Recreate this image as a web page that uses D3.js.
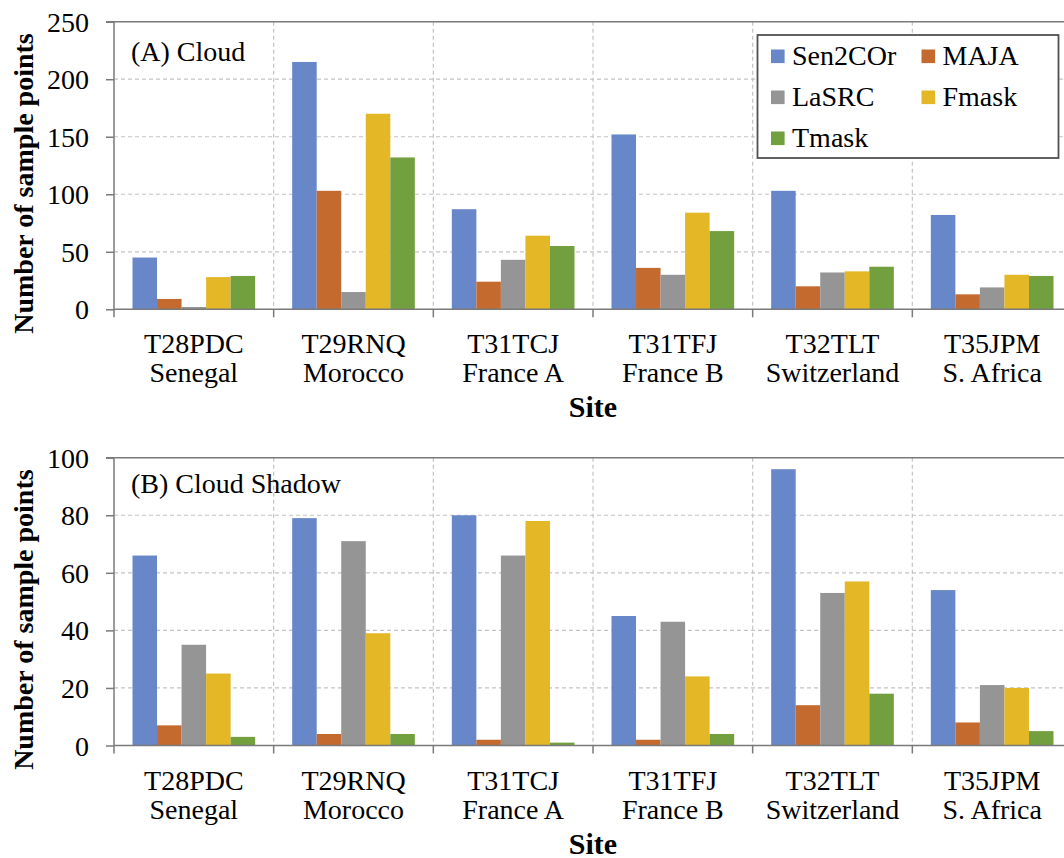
<!DOCTYPE html>
<html>
<head>
<meta charset="utf-8">
<script src="https://cdn.jsdelivr.net/npm/d3@7"></script>
<style>
  body { margin: 0; padding: 0; background: #fff; overflow: hidden; }
  svg { display: block; }
</style>
</head>
<body>
<svg id="chart" width="1064" height="858" style="font-family: 'Liberation Serif' !important"></svg>
<script>
// Sites (tile code + location) shared by both panels
const siteCodes = ["T28PDC", "T29RNQ", "T31TCJ", "T31TFJ", "T32TLT", "T35JPM"];
const siteNames = ["Senegal", "Morocco", "France A", "France B", "Switzerland", "S. Africa"];

// Masking algorithms
const algorithms = ["Sen2COr", "MAJA", "LaSRC", "Fmask", "Tmask"];
const algoColors = ["#6787c9", "#c56a2f", "#959595", "#e3b726", "#73a03e"];

// (A) Cloud: number of sample points per algorithm, per site
const cloudSen2COr = [45, 215, 87, 152, 103, 82];
const cloudMAJA    = [9, 103, 24, 36, 20, 13];
const cloudLaSRC   = [2, 15, 43, 30, 32, 19];
const cloudFmask   = [28, 170, 64, 84, 33, 30];
const cloudTmask   = [29, 132, 55, 68, 37, 29];

// (B) Cloud shadow
const shadowSen2COr = [66, 79, 80, 45, 96, 54];
const shadowMAJA    = [7, 4, 2, 2, 14, 8];
const shadowLaSRC   = [35, 71, 66, 43, 53, 21];
const shadowFmask   = [25, 39, 78, 24, 57, 20];
const shadowTmask   = [3, 4, 1, 4, 18, 5];

// Axis ticks
const cloudTicks  = [0, 50, 100, 150, 200, 250];
const shadowTicks = [0, 20, 40, 60, 80, 100];

const FONT = "'Liberation Serif', serif";
const svg = d3.select("#chart");

// apply the serif face and size as inline style so nothing overrides it
function serif(sel, size, weight) {
  sel.style("font-family", FONT, "important")
     .style("font-size", size + "px", "important")
     .style("font-weight", weight || "normal", "important");
  return sel;
}

const plotLeft = 114;
const plotRight = 1072;   // frame runs just past the canvas edge
const catWidth = (plotRight - plotLeft) / siteCodes.length;
const outerGap = 18.5;

const x0 = d3.scaleBand().domain(siteCodes).range([plotLeft, plotRight]).padding(0);
const x1 = d3.scaleBand().domain(algorithms).range([outerGap, catWidth - outerGap]).padding(0);
const color = d3.scaleOrdinal().domain(algorithms).range(algoColors);

function drawPanel(cfg) {
  const g = svg.append("g");
  const y = d3.scaleLinear().domain([0, cfg.ticks[cfg.ticks.length - 1]]).range([cfg.bottom, cfg.top]);

  // horizontal dashed gridlines
  g.append("g").selectAll("line")
    .data(cfg.ticks.filter(t => t > 0 && t < cfg.ticks[cfg.ticks.length - 1]))
    .join("line")
    .attr("x1", plotLeft).attr("x2", plotRight)
    .attr("y1", d => y(d)).attr("y2", d => y(d))
    .attr("stroke", "#c4c4c4").attr("stroke-width", 1.2)
    .attr("stroke-dasharray", "4,3");

  // vertical dashed separators between sites
  g.append("g").selectAll("line")
    .data(siteCodes.slice(1))
    .join("line")
    .attr("x1", d => x0(d)).attr("x2", d => x0(d))
    .attr("y1", cfg.top).attr("y2", cfg.bottom)
    .attr("stroke", "#c4c4c4").attr("stroke-width", 1.2)
    .attr("stroke-dasharray", "4,3");

  // top frame border
  g.append("line")
    .attr("x1", plotLeft - 8).attr("x2", plotRight)
    .attr("y1", cfg.top).attr("y2", cfg.top)
    .attr("stroke", "#7a7a7a").attr("stroke-width", 1.5);

  // bars
  const rows = siteCodes.map((s, i) => ({
    site: s,
    values: algorithms.map((a, k) => ({ algo: a, value: cfg.series[k][i] }))
  }));
  g.append("g").selectAll("g")
    .data(rows)
    .join("g")
    .attr("transform", d => `translate(${x0(d.site)},0)`)
    .selectAll("rect")
    .data(d => d.values)
    .join("rect")
    .attr("x", d => x1(d.algo))
    .attr("width", x1.bandwidth())
    .attr("y", d => y(d.value))
    .attr("height", d => y(0) - y(d.value))
    .attr("fill", d => color(d.algo));

  // y axis
  const yAxis = d3.axisLeft(y).tickValues(cfg.ticks).tickSize(8).tickPadding(17).tickFormat(d3.format("d"));
  const ya = g.append("g").attr("transform", `translate(${plotLeft},0)`).call(yAxis);
  ya.select(".domain").attr("stroke", "#7a7a7a").attr("stroke-width", 1.5).attr("d", `M0,${cfg.bottom}V${cfg.top}`);
  ya.selectAll(".tick line").attr("stroke", "#7a7a7a").attr("stroke-width", 1.5);
  serif(ya.selectAll(".tick text").attr("fill", "#000").attr("dy", "0.34em"), 28);

  // x axis baseline and site boundary ticks
  const xa = g.append("g");
  xa.append("line")
    .attr("x1", plotLeft).attr("x2", plotRight)
    .attr("y1", cfg.bottom).attr("y2", cfg.bottom)
    .attr("stroke", "#7a7a7a").attr("stroke-width", 1.5);
  xa.selectAll("line.tk")
    .data(siteCodes)
    .join("line").attr("class", "tk")
    .attr("x1", d => x0(d)).attr("x2", d => x0(d))
    .attr("y1", cfg.bottom).attr("y2", cfg.bottom + 8)
    .attr("stroke", "#7a7a7a").attr("stroke-width", 1.5);

  // two-line site labels
  const lbl = xa.selectAll("text.site")
    .data(siteCodes)
    .join("text").attr("class", "site")
    .attr("text-anchor", "middle");
  serif(lbl, 28);
  serif(lbl.append("tspan")
    .attr("x", d => x0(d) + x0.bandwidth() / 2)
    .attr("y", cfg.bottom + 44)
    .text(d => d), 28);
  serif(lbl.append("tspan")
    .attr("x", d => x0(d) + x0.bandwidth() / 2)
    .attr("y", cfg.bottom + 73)
    .text((d, i) => siteNames[i]), 28);

  // x axis title
  serif(g.append("text")
    .attr("x", (plotLeft + plotRight) / 2)
    .attr("y", cfg.bottom + 108)
    .attr("text-anchor", "middle")
    .text("Site"), 30, "bold");

  // y axis title
  serif(g.append("text")
    .attr("transform", `translate(33,${(cfg.top + cfg.bottom) / 2 + 18}) rotate(-90)`)
    .attr("text-anchor", "middle")
    .text("Number of sample points"), 28, "bold");

  // panel label
  serif(g.append("text")
    .attr("x", 131).attr("y", cfg.labelY)
    .text(cfg.label), 28);

  return g;
}

drawPanel({
  top: 21.7, bottom: 309.3,
  ticks: cloudTicks,
  series: [cloudSen2COr, cloudMAJA, cloudLaSRC, cloudFmask, cloudTmask],
  label: "(A) Cloud", labelY: 60.5
});

drawPanel({
  top: 457.7, bottom: 745.5,
  ticks: shadowTicks,
  series: [shadowSen2COr, shadowMAJA, shadowLaSRC, shadowFmask, shadowTmask],
  label: "(B) Cloud Shadow", labelY: 493
});

// legend for the cloud panel
const legend = svg.append("g").attr("transform", "translate(757.5,35)");
legend.append("rect")
  .attr("width", 301).attr("height", 123)
  .attr("fill", "#fff").attr("stroke", "#505050").attr("stroke-width", 1.8);
const legendPos = [[0, 0], [1, 0], [0, 1], [1, 1], [0, 2]];
const li = legend.selectAll("g.item")
  .data(algorithms)
  .join("g").attr("class", "item")
  .attr("transform", (d, i) => `translate(${13.5 + legendPos[i][0] * 150.5},${14.5 + legendPos[i][1] * 41})`);
li.append("rect")
  .attr("width", 13.6).attr("height", 13.6)
  .attr("fill", d => color(d));
serif(li.append("text")
  .attr("x", 21).attr("y", 15.5)
  .text(d => d), 28);
</script>
</body>
</html>
